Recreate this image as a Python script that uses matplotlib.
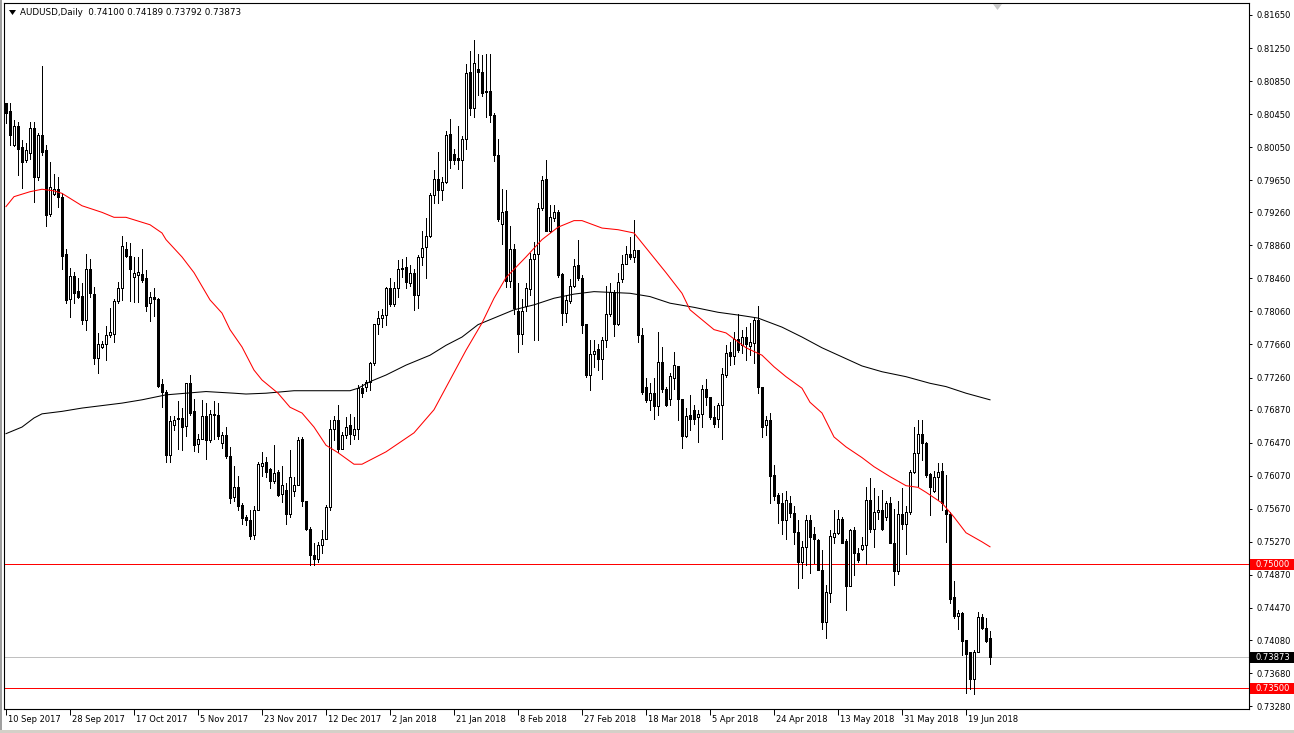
import matplotlib
matplotlib.use("Agg")
import matplotlib.pyplot as plt
from matplotlib.patches import Rectangle, Polygon
from matplotlib.transforms import blended_transform_factory
import numpy as np

# ---------------- data (AUDUSD daily) ----------------
opens = [0.8058,0.8049,0.8008,0.8030,0.8005,0.7989,0.7998,0.8028,0.7969,0.8020,
         0.8001,0.7924,0.7948,0.7954,0.7945,0.7875,0.7821,0.7849,0.7831,0.7825,
         0.7796,0.7857,0.7827,0.7750,0.7763,0.7766,0.7778,0.7779,0.7819,0.7834,
         0.7882,0.7873,0.7848,0.7850,0.7851,0.7846,0.7816,0.7824,0.7821,0.7718,
         0.7709,0.7632,0.7669,0.7676,0.7677,0.7667,0.7719,0.7685,0.7645,0.7652,
         0.7679,0.7650,0.7682,0.7681,0.7647,0.7656,0.7631,0.7581,0.7593,0.7572,
         0.7557,0.7554,0.7535,0.7566,0.7619,0.7624,0.7615,0.7601,0.7612,0.7585,
         0.7590,0.7561,0.7589,0.7596,0.7651,0.7577,0.7543,0.7511,0.7506,0.7523,
         0.7531,0.7569,0.7664,0.7674,0.7640,0.7656,0.7668,0.7656,0.7664,0.7713,
         0.7714,0.7720,0.7743,0.7791,0.7798,0.7802,0.7835,0.7815,0.7834,0.7858,
         0.7860,0.7840,0.7852,0.7826,0.7872,0.7884,0.7897,0.7947,0.7967,0.7953,
         0.7963,0.8021,0.7997,0.7992,0.7989,0.8015,0.8096,0.8052,0.8099,0.8096,
         0.8073,0.8073,0.8044,0.7996,0.7912,0.7928,0.7843,0.7882,0.7807,0.7779,
         0.7812,0.7833,0.7869,0.7876,0.7931,0.7967,0.7904,0.7919,0.7927,0.7851,
         0.7804,0.7819,0.7837,0.7862,0.7847,0.7791,0.7729,0.7754,0.7761,0.7749,
         0.7771,0.7803,0.7830,0.7791,0.7845,0.7864,0.7875,0.7872,0.7880,0.7777,
         0.7714,0.7699,0.7707,0.7692,0.7745,0.7712,0.7700,0.7726,0.7740,0.7700,
         0.7655,0.7681,0.7687,0.7678,0.7682,0.7712,0.7702,0.7678,0.7676,0.7693,
         0.7729,0.7757,0.7752,0.7773,0.7765,0.7775,0.7764,0.7768,0.7796,0.7714,
         0.7668,0.7675,0.7608,0.7584,0.7574,0.7553,0.7574,0.7562,0.7539,0.7502,
         0.7521,0.7554,0.7537,0.7529,0.7493,0.7430,0.7465,0.7533,0.7538,0.7555,
         0.7528,0.7473,0.7541,0.7514,0.7518,0.7523,0.7578,0.7543,0.7563,0.7566,
         0.7557,0.7574,0.7526,0.7492,0.7561,0.7549,0.7563,0.7611,0.7634,0.7658,
         0.7647,0.7609,0.7588,0.7605,0.7613,0.7565,0.7561,0.7460,0.7437,0.7441,
         0.7408,0.7394,0.7361,0.7394,0.7436,0.7423,0.74100]
highs = [0.8059,0.8059,0.8038,0.8036,0.8014,0.8010,0.8036,0.8035,0.8022,0.8103,
         0.8008,0.7987,0.7973,0.7969,0.7949,0.7882,0.7859,0.7854,0.7846,0.7840,
         0.7875,0.7870,0.7836,0.7780,0.7770,0.7788,0.7810,0.7821,0.7842,0.7897,
         0.7890,0.7889,0.7872,0.7872,0.7882,0.7856,0.7830,0.7834,0.7822,0.7724,
         0.7711,0.7679,0.7679,0.7697,0.7689,0.7719,0.7729,0.7700,0.7658,0.7699,
         0.7695,0.7687,0.7697,0.7695,0.7660,0.7666,0.7642,0.7619,0.7607,0.7574,
         0.7559,0.7565,0.7571,0.7624,0.7636,0.7630,0.7617,0.7644,0.7614,0.7619,
         0.7598,0.7638,0.7606,0.7654,0.7654,0.7577,0.7545,0.7525,0.7527,0.7541,
         0.7572,0.7675,0.7679,0.7693,0.7660,0.7678,0.7682,0.7678,0.7717,0.7718,
         0.7723,0.7745,0.7791,0.7807,0.7809,0.7836,0.7846,0.7842,0.7868,0.7869,
         0.7872,0.7862,0.7858,0.7874,0.7904,0.7919,0.7949,0.7977,0.7999,0.7969,
         0.8024,0.8039,0.8003,0.8030,0.8018,0.8106,0.8121,0.8135,0.8118,0.8116,
         0.8118,0.8118,0.8046,0.8015,0.7954,0.7953,0.7909,0.7888,0.7840,0.7821,
         0.7841,0.7877,0.7890,0.7937,0.7970,0.7989,0.7935,0.7935,0.7929,0.7853,
         0.7826,0.7845,0.7870,0.7893,0.7850,0.7791,0.7772,0.7772,0.7766,0.7775,
         0.7837,0.7840,0.7832,0.7852,0.7874,0.7885,0.7896,0.7917,0.7880,0.7786,
         0.7725,0.7719,0.7725,0.7781,0.7763,0.7715,0.7731,0.7757,0.7740,0.7700,
         0.7689,0.7705,0.7693,0.7687,0.7717,0.7724,0.7703,0.7691,0.7695,0.7737,
         0.7765,0.7769,0.7781,0.7803,0.7784,0.7787,0.7792,0.7799,0.7813,0.7715,
         0.7679,0.7683,0.7620,0.7586,0.7586,0.7588,0.7582,0.7571,0.7554,0.7528,
         0.7559,0.7559,0.7545,0.7530,0.7517,0.7475,0.7541,0.7565,0.7565,0.7557,
         0.7530,0.7543,0.7545,0.7519,0.7533,0.7593,0.7604,0.7592,0.7582,0.7590,
         0.7576,0.7581,0.7567,0.7576,0.7592,0.7571,0.7614,0.7666,0.7675,0.7675,
         0.7648,0.7610,0.7613,0.7622,0.7622,0.7608,0.7563,0.7479,0.7444,0.7442,
         0.7408,0.7394,0.7396,0.7442,0.7440,0.7435,0.74189]
lows = [0.8034,0.8008,0.8006,0.7971,0.7955,0.7987,0.7991,0.7939,0.7965,0.7995,
        0.7909,0.7921,0.7947,0.7933,0.7858,0.7816,0.7799,0.7816,0.7822,0.7791,
        0.7784,0.7823,0.7742,0.7732,0.7762,0.7747,0.7775,0.7769,0.7816,0.7820,
        0.7872,0.7819,0.7818,0.7818,0.7842,0.7806,0.7795,0.7801,0.7715,0.7690,
        0.7624,0.7624,0.7662,0.7639,0.7638,0.7655,0.7681,0.7637,0.7636,0.7651,
        0.7627,0.7648,0.7652,0.7652,0.7641,0.7629,0.7574,0.7576,0.7566,0.7549,
        0.7547,0.7531,0.7531,0.7565,0.7607,0.7605,0.7592,0.7598,0.7582,0.7575,
        0.7549,0.7557,0.7582,0.7596,0.7570,0.7541,0.7499,0.7499,0.7502,0.7514,
        0.7531,0.7566,0.7650,0.7636,0.7639,0.7653,0.7645,0.7652,0.7652,0.7703,
        0.7710,0.7711,0.7741,0.7779,0.7787,0.7789,0.7812,0.7812,0.7824,0.7848,
        0.7834,0.7837,0.7808,0.7810,0.7862,0.7846,0.7896,0.7937,0.7937,0.7941,
        0.7962,0.7980,0.7985,0.7979,0.7956,0.8003,0.8044,0.8042,0.8068,0.8067,
        0.8042,0.8035,0.7988,0.7916,0.7888,0.7836,0.7836,0.7803,0.7757,0.7767,
        0.7806,0.7826,0.7772,0.7772,0.7929,0.7904,0.7902,0.7915,0.7848,0.7790,
        0.7793,0.7816,0.7836,0.7844,0.7780,0.7727,0.7711,0.7739,0.7735,0.7724,
        0.7763,0.7800,0.7776,0.7789,0.7842,0.7864,0.7870,0.7866,0.7769,0.7706,
        0.7696,0.7687,0.7676,0.7680,0.7708,0.7691,0.7693,0.7712,0.7675,0.7641,
        0.7654,0.7662,0.7670,0.7648,0.7666,0.7693,0.7676,0.7666,0.7666,0.7651,
        0.7727,0.7741,0.7742,0.7757,0.7756,0.7747,0.7753,0.7743,0.7707,0.7654,
        0.7656,0.7574,0.7578,0.7550,0.7536,0.7530,0.7557,0.7524,0.7471,0.7483,
        0.7499,0.7489,0.7501,0.7493,0.7422,0.7410,0.7454,0.7526,0.7536,0.7525,
        0.7444,0.7473,0.7487,0.7503,0.7517,0.7500,0.7539,0.7521,0.7555,0.7541,
        0.7554,0.7525,0.7475,0.7488,0.7543,0.7512,0.7561,0.7610,0.7595,0.7626,
        0.7606,0.7559,0.7587,0.7578,0.7565,0.7527,0.7453,0.7435,0.7422,0.7390,
        0.7344,0.7349,0.7343,0.7393,0.7422,0.7406,0.73792]
closes = [0.8046,0.8020,0.8030,0.8003,0.7987,0.8001,0.8028,0.7969,0.8020,0.7999,
          0.7923,0.7957,0.7954,0.7945,0.7873,0.7820,0.7849,0.7828,0.7824,0.7796,
          0.7857,0.7828,0.7750,0.7767,0.7766,0.7778,0.7781,0.7819,0.7834,0.7885,
          0.7873,0.7857,0.7853,0.7854,0.7844,0.7812,0.7824,0.7821,0.7716,0.7709,
          0.7632,0.7673,0.7675,0.7677,0.7666,0.7719,0.7683,0.7644,0.7652,0.7679,
          0.7650,0.7682,0.7681,0.7655,0.7656,0.7631,0.7580,0.7593,0.7570,0.7556,
          0.7554,0.7534,0.7566,0.7621,0.7623,0.7612,0.7601,0.7610,0.7584,0.7596,
          0.7561,0.7605,0.7596,0.7650,0.7577,0.7543,0.7511,0.7506,0.7523,0.7531,
          0.7569,0.7664,0.7674,0.7640,0.7656,0.7666,0.7657,0.7664,0.7713,0.7707,
          0.7720,0.7744,0.7791,0.7798,0.7802,0.7835,0.7815,0.7834,0.7858,0.7859,
          0.7842,0.7852,0.7826,0.7872,0.7883,0.7897,0.7947,0.7967,0.7953,0.7963,
          0.8020,0.7990,0.7990,0.7989,0.8015,0.8095,0.8052,0.8107,0.8096,0.8071,
          0.8072,0.8044,0.7996,0.7918,0.7927,0.7843,0.7882,0.7810,0.7779,0.7807,
          0.7834,0.7870,0.7876,0.7931,0.7965,0.7904,0.7920,0.7927,0.7850,0.7804,
          0.7820,0.7837,0.7861,0.7846,0.7790,0.7729,0.7754,0.7758,0.7749,0.7771,
          0.7803,0.7830,0.7791,0.7842,0.7864,0.7875,0.7872,0.7881,0.7778,0.7708,
          0.7699,0.7707,0.7692,0.7745,0.7712,0.7693,0.7728,0.7741,0.7700,0.7655,
          0.7679,0.7676,0.7676,0.7682,0.7712,0.7702,0.7678,0.7670,0.7693,0.7730,
          0.7756,0.7752,0.7773,0.7759,0.7775,0.7767,0.7769,0.7796,0.7714,0.7666,
          0.7675,0.7607,0.7582,0.7574,0.7553,0.7578,0.7562,0.7539,0.7502,0.7521,
          0.7554,0.7533,0.7530,0.7493,0.7430,0.7466,0.7534,0.7538,0.7555,0.7526,
          0.7473,0.7541,0.7513,0.7505,0.7523,0.7578,0.7543,0.7563,0.7566,0.7543,
          0.7574,0.7526,0.7492,0.7561,0.7549,0.7563,0.7611,0.7634,0.7658,0.7647,
          0.7608,0.7593,0.7606,0.7611,0.7574,0.7561,0.7458,0.7437,0.7441,0.7407,
          0.7391,0.7361,0.7394,0.7436,0.7423,0.7407,0.73873]

# moving averages: bar index -> value
ma_fast_bar = [0,2,6,9,12,14,16,19,24,27,30,34,36,39,40,44,47,51,54,56,59,62,64,68,71,74,77,80,83,
               87,89,95,102,107,112,115,119,122,125,130,134,138,142,144,149,153,157,161,165,169,171,
               174,177,180,185,189,192,195,199,201,204,207,210,214,217,221,225,228,230,234,237,240,244,246]
ma_fast_val = [0.7933,0.7945,0.7951,0.7954,0.7952,0.7949,0.7943,0.7934,0.7926,0.7920,0.7920,0.7914,
               0.7911,0.7901,0.7893,0.7872,0.7853,0.7820,0.7804,0.7784,0.7763,0.7735,0.7723,0.7707,
               0.7690,0.7683,0.7666,0.7644,0.7635,0.7621,0.7621,0.7636,0.7659,0.7687,0.7732,0.7759,
               0.7792,0.7822,0.7847,0.7872,0.7893,0.7908,0.7916,0.7916,0.7907,0.7905,0.7901,0.7877,
               0.7853,0.7828,0.7808,0.7796,0.7784,0.7780,0.7762,0.7753,0.7739,0.7727,0.7713,0.7696,
               0.7683,0.7654,0.7642,0.7629,0.7618,0.7606,0.7595,0.7593,0.7587,0.7574,0.7557,0.7538,
               0.7527,0.7521]
ma_slow_bar = [0,4,7,9,14,19,24,29,34,37,40,45,50,57,60,65,72,81,86,88,91,95,100,106,110,114,118,
               124,127,132,137,142,147,156,161,166,172,178,184,188,194,199,204,209,214,219,225,231,
               235,240,246]
ma_slow_val = [0.7658,0.7666,0.7677,0.7682,0.7685,0.7689,0.7692,0.7695,0.7699,0.7702,0.7705,0.7707,
               0.7709,0.7707,0.7706,0.7707,0.7710,0.7710,0.7710,0.7713,0.7721,0.7729,0.7741,0.7753,
               0.7765,0.7775,0.7790,0.7802,0.7808,0.7814,0.7822,0.7827,0.7830,0.7828,0.7824,0.7816,
               0.7811,0.7805,0.7801,0.7798,0.7787,0.7775,0.7762,0.7751,0.7740,0.7733,0.7727,0.7719,
               0.7715,0.7707,0.7699]

price_ticks = [0.81650,0.81250,0.80850,0.80450,0.80050,0.79650,0.79260,0.78860,0.78460,0.78060,
               0.77660,0.77260,0.76870,0.76470,0.76070,0.75670,0.75270,0.74870,0.74470,0.74080,
               0.73680,0.73280]
date_bars = [0,16,32,48,64,80,96,112,128,144,160,176,192,208,224,240]
date_labels = ["10 Sep 2017","28 Sep 2017","17 Oct 2017","5 Nov 2017","23 Nov 2017","12 Dec 2017",
               "2 Jan 2018","21 Jan 2018","8 Feb 2018","27 Feb 2018","18 Mar 2018","5 Apr 2018",
               "24 Apr 2018","13 May 2018","31 May 2018","19 Jun 2018"]
level_lines = [0.75000, 0.73500]
bid_price = 0.73873
title = "AUDUSD,Daily  0.74100 0.74189 0.73792 0.73873"

# ---------------- figure ----------------
W, H = 1294, 733
FS = 6.0
LW = 0.6   # ~1 device pixel
plt.rcParams['font.family'] = ['DejaVu Sans']
fig = plt.figure(figsize=(W / 100, H / 100), dpi=100, facecolor='white')
ax = fig.add_axes([4 / W, 1 - 709 / H, (1249 - 4) / W, (709 - 3) / H])
ax.set_facecolor('white')
ax.set_xlim(-0.5, 310.75)
ax.set_ylim(0.732457, 0.817953)

n = len(opens)
x = np.arange(n)
o = np.array(opens); h = np.array(highs); l = np.array(lows); c = np.array(closes)
hi = np.maximum(h, np.maximum(o, c))
lo = np.minimum(l, np.minimum(o, c))

# level lines
for lv in level_lines:
    ax.axhline(lv, color='#FF0000', lw=LW, zorder=1, antialiased=False)
ax.axhline(bid_price, color='#C0C0C0', lw=LW, zorder=1, antialiased=False)

# wicks
ax.vlines(x, lo, hi, color='black', lw=LW, zorder=2, antialiased=False)
# bodies
for i in range(n):
    bull = c[i] >= o[i]
    bottom = min(o[i], c[i])
    height = abs(c[i] - o[i])
    ax.add_patch(Rectangle((x[i] - 0.25, bottom), 0.5, height,
                           facecolor='white' if bull else 'black', edgecolor='black',
                           lw=LW, zorder=3, antialiased=False))

# moving averages
ax.plot(ma_slow_bar, ma_slow_val, color='black', lw=0.75, zorder=4)
ax.plot(ma_fast_bar, ma_fast_val, color='#FF0000', lw=0.75, zorder=4)

# axes styling
for s in ax.spines.values():
    s.set_linewidth(0.8)
    s.set_color('black')
ax.yaxis.tick_right()
ax.set_yticks(price_ticks)
ax.set_yticklabels([f"{p:.5f}" for p in price_ticks], fontsize=FS)
ax.tick_params(axis='y', direction='out', length=2.5, width=0.7, pad=3, right=True, left=False)
ax.set_xticks(date_bars)
ax.set_xticklabels([])
ax.tick_params(axis='x', direction='out', length=4, width=0.7, pad=1)
trans = blended_transform_factory(ax.transData, ax.transAxes)
for b, lab in zip(date_bars, date_labels):
    ax.text(b + 0.4, -0.0155, lab, transform=trans, ha='left', va='center', fontsize=FS,
            clip_on=False)

# price boxes on the scale
tb = blended_transform_factory(ax.transAxes, ax.transData)
box_h = 11 * 0.0001211
box_w = 44 / (1249 - 4)
for p, col in [(0.75000, '#FF0000'), (0.73500, '#FF0000'), (bid_price, 'black')]:
    ax.add_patch(Rectangle((1.0005, p - box_h / 2), box_w, box_h, transform=tb,
                           facecolor=col, edgecolor='none', clip_on=False, zorder=5))
    ax.text(1.0 + 7 / 1245, p, f"{p:.5f}", transform=tb, ha='left', va='center',
            fontsize=FS, color='white', clip_on=False, zorder=6)

# title
fig.text(20 / W, 1 - 12.5 / H, title, ha='left', va='center', fontsize=FS + 0.3, color='black')
fig.patches.append(Polygon([(9 / W, 1 - 10 / H), (16 / W, 1 - 10 / H), (12.5 / W, 1 - 15 / H)],
                           closed=True, transform=fig.transFigure, facecolor='black',
                           edgecolor='none'))
# small gray shift marker at top
fig.patches.append(Polygon([(993 / W, 1 - 4 / H), (1002 / W, 1 - 4 / H), (997.5 / W, 1 - 10 / H)],
                           closed=True, transform=fig.transFigure, facecolor='#C8C8C8',
                           edgecolor='none'))
# window frame strips
fig.patches.append(Rectangle((0, 0), 2 / W, 1, transform=fig.transFigure,
                             facecolor='#A0A0A0', edgecolor='none'))
fig.patches.append(Rectangle((0, 0), 1, 3 / H, transform=fig.transFigure,
                             facecolor='#D4D0C8', edgecolor='none'))

fig.savefig('out.png', dpi=100, facecolor='white')
